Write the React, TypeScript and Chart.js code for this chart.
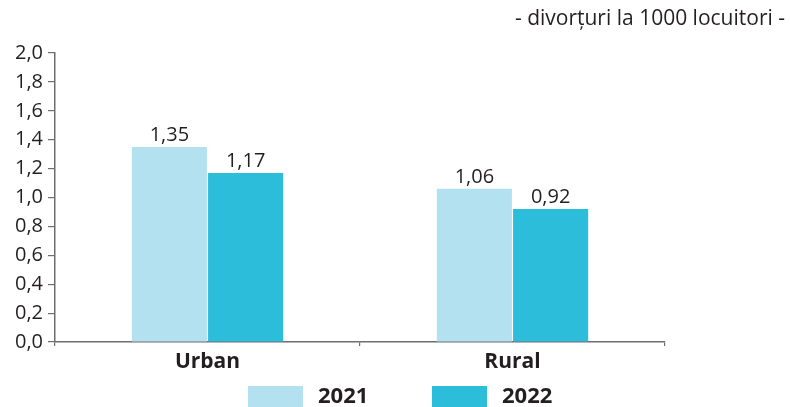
import React, { useEffect, useRef } from "react";
import { Chart, registerables } from "chart.js";

Chart.register(...registerables);

const categories = ["Urban", "Rural"];
const seriesNames = ["2021", "2022"];
const values2021 = [1.35, 1.06];
const values2022 = [1.17, 0.92];
const yTickValues = [0, 0.2, 0.4, 0.6, 0.8, 1.0, 1.2, 1.4, 1.6, 1.8, 2.0];
const unitNote = "- divorțuri la 1000 locuitori -";

const colors = ["#B3E1EF", "#2CBDDA"];
const textColor = "#231F20";
const axisColor = "#6D6E71";
const FONT = "'Open Sans', 'Noto Sans', sans-serif";

const fmt = (v: number, d: number) => v.toFixed(d).replace(".", ",");

const overlayPlugin = {
  id: "overlay",
  afterDatasetsDraw(chart: any) {
    const ctx = chart.ctx;
    ctx.save();
    // value labels
    ctx.fillStyle = textColor;
    ctx.font = `20px ${FONT}`;
    ctx.textAlign = "center";
    ctx.textBaseline = "bottom";
    chart.data.datasets.forEach((ds: any, i: number) => {
      const meta = chart.getDatasetMeta(i);
      meta.data.forEach((el: any, j: number) => {
        ctx.fillText(fmt(ds.data[j], 2), el.x, el.y - 2);
      });
    });
    // unit note
    ctx.font = `21px ${FONT}`;
    ctx.textAlign = "right";
    ctx.textBaseline = "middle";
    ctx.fillText(unitNote, 785, 19);
    // legend
    const legendX = [248, 432];
    seriesNames.forEach((name, i) => {
      ctx.fillStyle = colors[i];
      ctx.fillRect(legendX[i], 386, 55, 21);
      ctx.fillStyle = textColor;
      ctx.font = `bold 22px ${FONT}`;
      ctx.textAlign = "left";
      ctx.textBaseline = "middle";
      ctx.fillText(name, legendX[i] + 70, 397);
    });
    ctx.restore();
  },
};

export default function App() {
  const ref = useRef<HTMLCanvasElement | null>(null);
  useEffect(() => {
    if (!ref.current) return;
    const chart = new Chart(ref.current, {
      type: "bar",
      data: {
        labels: categories,
        datasets: [
          { label: seriesNames[0], data: values2021, backgroundColor: colors[0] },
          { label: seriesNames[1], data: values2022, backgroundColor: colors[1] },
        ],
      },
      options: {
        animation: false,
        responsive: false,
        maintainAspectRatio: false,
        datasets: { bar: { categoryPercentage: 0.5, barPercentage: 0.985 } },
        layout: { padding: { left: 0, right: 125, top: 53, bottom: 0 } },
        plugins: { legend: { display: false }, tooltip: { enabled: false } },
        scales: {
          x: {
            grid: { display: true, drawOnChartArea: false, offset: true, color: axisColor, tickLength: 4, lineWidth: 1.2 },
            border: { color: axisColor, width: 1.5 },
            ticks: { color: textColor, font: { family: FONT, size: 21, weight: "bold" }, padding: 3 },
            afterFit: (s: any) => { s.height = 65; },
          },
          y: {
            min: 0,
            max: 2,
            afterBuildTicks: (s: any) => { s.ticks = yTickValues.map((v) => ({ value: v })); },
            grid: { display: true, drawOnChartArea: false, color: axisColor, tickLength: 7, lineWidth: 1.2 },
            border: { color: axisColor, width: 1.5 },
            ticks: {
              color: textColor,
              font: { family: FONT, size: 20 },
              padding: 5,
              callback: (v: any) => fmt(Number(v), 1),
            },
            afterFit: (s: any) => { s.width = 55; },
          },
        },
      },
      plugins: [overlayPlugin],
    });
    return () => chart.destroy();
  }, []);
  return (
    <div style={{ position: "fixed", left: 0, top: 0, width: 790, height: 407, background: "#fff" }}>
      <canvas ref={ref} width={790} height={407} style={{ display: "block" }} />
    </div>
  );
}
